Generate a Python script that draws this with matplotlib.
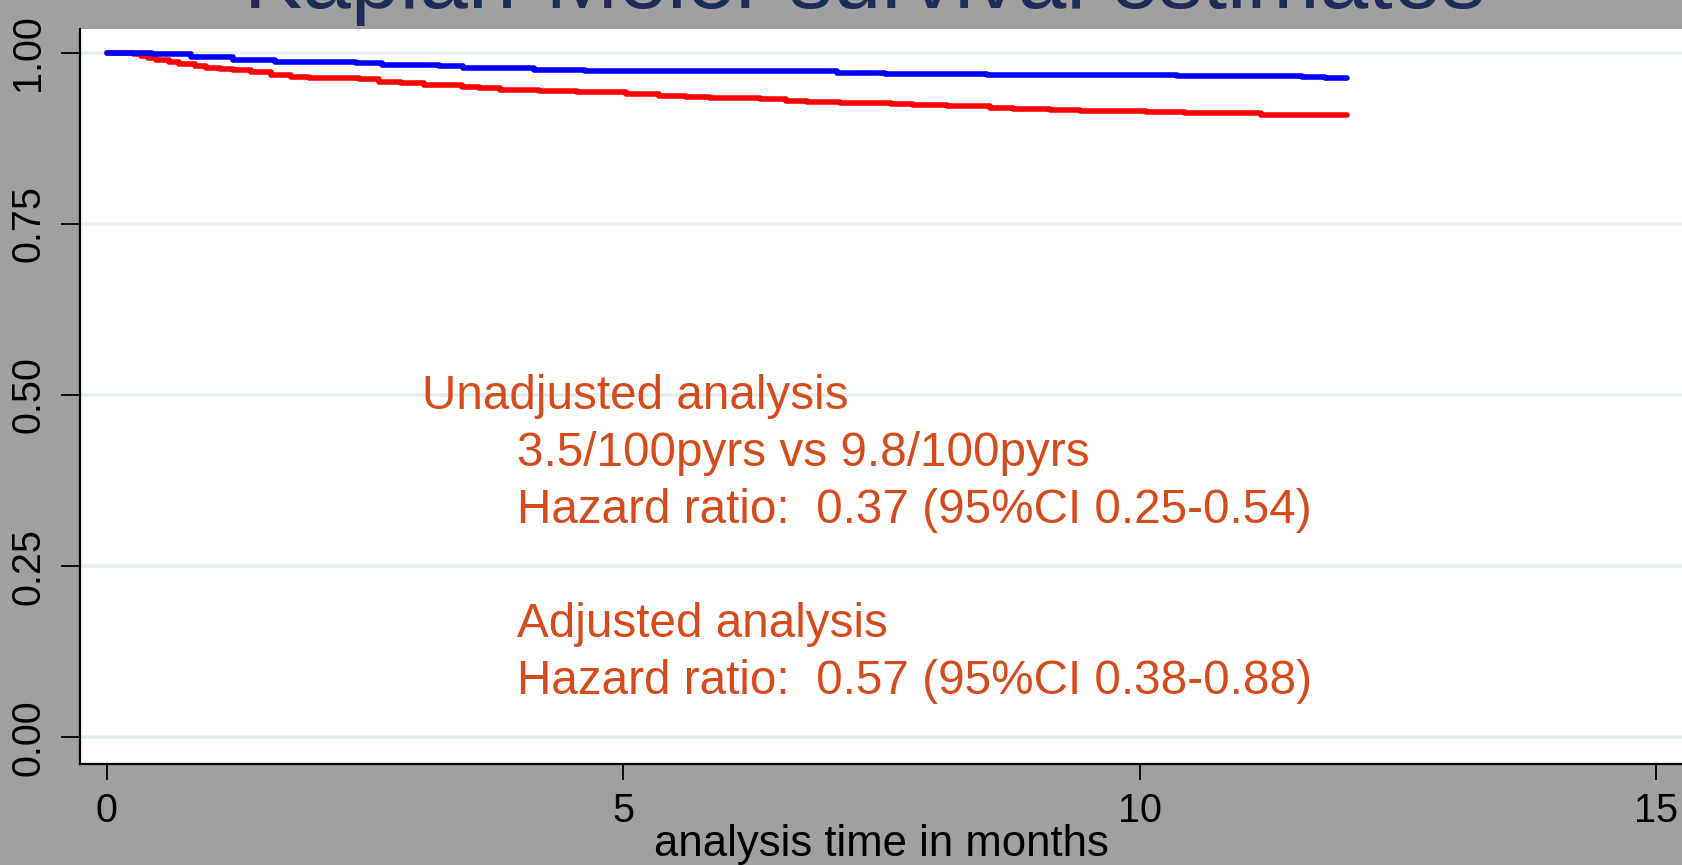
import matplotlib
matplotlib.use("Agg")
import matplotlib.pyplot as plt

plt.rcParams['font.family'] = ['Liberation Sans', 'DejaVu Sans']

# Kaplan-Meier step data (time in months, survival after step)
t_blue = [0, 0.44, 0.81, 1.22, 1.63, 2.41, 2.66, 3.22, 3.45, 4.14, 4.63,
          7.07, 7.53, 8.52, 10.36, 11.57, 11.79, 12.01]
s_blue = [1.000, 0.9976, 0.994, 0.989, 0.987, 0.9854, 0.9825, 0.980, 0.978,
          0.9747, 0.9727, 0.9703, 0.9689, 0.9679, 0.9665, 0.9649, 0.9630, 0.9630]

t_red = [0, 0.25, 0.33, 0.40, 0.48, 0.60, 0.70, 0.85, 0.96, 1.10, 1.22, 1.40,
         1.59, 1.78, 1.96, 2.44, 2.63, 2.85, 3.07, 3.44, 3.60, 3.81, 4.18,
         4.55, 4.77, 5.03, 5.35, 5.61, 5.84, 6.32, 6.58, 6.78, 7.10, 7.59,
         7.80, 8.13, 8.55, 8.77, 9.13, 9.42, 10.06, 10.44, 11.17, 11.90, 12.01]
s_red = [1.0, 0.998, 0.995, 0.992, 0.989, 0.986, 0.983, 0.980, 0.978, 0.976,
         0.9747, 0.971, 0.968, 0.965, 0.9625, 0.961, 0.957, 0.955, 0.953,
         0.950, 0.948, 0.946, 0.9435, 0.943, 0.942, 0.9396, 0.9372, 0.9352,
         0.9338, 0.9323, 0.9299, 0.928, 0.9265, 0.9245, 0.9236, 0.9216, 0.919,
         0.9177, 0.9167, 0.9150, 0.9136, 0.9119, 0.9094, 0.9084, 0.9084]

xticks = [0, 5, 10, 15]
yticks = [0.00, 0.25, 0.50, 0.75, 1.00]
ytick_labels = ["0.00", "0.25", "0.50", "0.75", "1.00"]

title = "Kaplan-Meier survival estimates"
xlabel = "analysis time in months"

notes = ["Unadjusted analysis",
         "3.5/100pyrs vs 9.8/100pyrs",
         "Hazard ratio:  0.37 (95%CI 0.25-0.54)",
         "",
         "Adjusted analysis",
         "Hazard ratio:  0.57 (95%CI 0.38-0.88)"]
notes_indent = [False, True, True, True, True, True]

gray = '#A0A0A0'
note_col = '#D64B1C'

fig = plt.figure(figsize=(16.82, 8.65), dpi=100, facecolor=gray)
ax = fig.add_axes([80/1682, 1 - 764/865, 1 - 80/1682, (764 - 29)/865])
ax.set_facecolor('white')

for y in yticks:
    ax.axhline(y, color='#E4EEF0', lw=2.6, zorder=1)

ax.step(t_blue, s_blue, where='post', color='#0000FF', lw=4.0,
        solid_capstyle='round', zorder=3)
ax.step(t_red, s_red, where='post', color='#FF0000', lw=4.0,
        solid_capstyle='round', zorder=2)

ax.set_xlim(-0.26, 15.25)
ax.set_ylim(-0.039, 1.0345)

ax.set_xticks(xticks)
ax.set_yticks(yticks)
ax.set_yticklabels(ytick_labels, rotation=90, va='center')
ax.tick_params(axis='y', length=13.5, width=1.3, labelsize=28.5, pad=10)
ax.tick_params(axis='x', length=11.5, width=1.3, labelsize=28.5, pad=9)

for side in ['top', 'right']:
    ax.spines[side].set_visible(False)
for side in ['left', 'bottom']:
    ax.spines[side].set_linewidth(1.6)

ax.set_xlabel(xlabel, fontsize=31.5, labelpad=-5)

# annotation block
y0 = 0.480
step = 0.0833
for i, (line, ind) in enumerate(zip(notes, notes_indent)):
    if line:
        ax.text(3.97 if ind else 3.05, y0 - i*step, line, fontsize=34.3,
                color=note_col, va='baseline', ha='left', zorder=4)

fig.text(0.514, 1 - 7.5/865, title, fontsize=63, color='#1E2C58',
         ha='center', va='baseline')

fig.savefig('out.png', dpi=100, facecolor=gray)
